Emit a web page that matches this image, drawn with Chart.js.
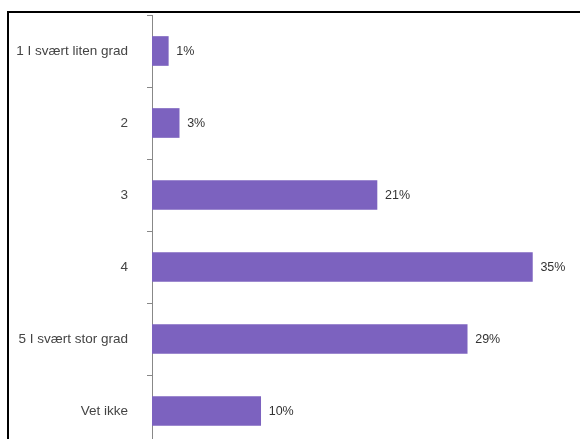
<!DOCTYPE html>
<html>
<head>
<meta charset="utf-8">
<script src="https://cdn.jsdelivr.net/npm/chart.js@4.4.0/dist/chart.umd.min.js"></script>
<style>
  html, body { margin: 0; padding: 0; width: 580px; height: 439px; overflow: hidden; background: #fff; }
  #frame { position: absolute; left: 7px; top: 11px; width: 640px; height: 520px; border: 2px solid #000; box-sizing: border-box; }
  #wrap { position: absolute; left: 0; top: 0; width: 580px; height: 460px; }
</style>
</head>
<body>
<div id="frame"></div>
<div id="wrap"><canvas id="chart"></canvas></div>
<script>
// svaralternativ og andel (prosent)
const kategorier = ['1 I svært liten grad', '2', '3', '4', '5 I svært stor grad', 'Vet ikke'];
const andel = [1.5, 2.5, 20.7, 35, 29, 10];
const etiketter = ['1%', '3%', '21%', '35%', '29%', '10%'];

// skriver prosenttallet til høyre for hver stolpe
const verdiTekst = {
  id: 'verdiTekst',
  afterDatasetsDraw(chart) {
    const ctx = chart.ctx;
    const meta = chart.getDatasetMeta(0);
    ctx.save();
    ctx.font = '12.5px "Liberation Sans", Arial, sans-serif';
    ctx.fillStyle = '#333';
    ctx.textAlign = 'left';
    ctx.textBaseline = 'middle';
    meta.data.forEach((bar, i) => {
      ctx.fillText(etiketter[i], bar.x + 8, bar.y + 1);
    });
    ctx.restore();
  }
};

new Chart(document.getElementById('chart'), {
  type: 'bar',
  data: {
    labels: kategorier,
    datasets: [{
      data: andel,
      backgroundColor: '#7c62bf',
      borderWidth: 0,
      barThickness: 29
    }]
  },
  options: {
    indexAxis: 'y',
    responsive: true,
    maintainAspectRatio: false,
    animation: false,
    layout: { padding: { top: 15, bottom: 13, right: 15, left: 0 } },
    scales: {
      x: {
        display: false,
        min: 0,
        max: 38
      },
      y: {
        afterFit: s => {
          s.width = 152;
          s.paddingTop = 0;
          s.paddingBottom = 0;
        },
        border: { display: true, color: '#888', width: 1 },
        grid: { offset: true, drawOnChartArea: false, tickLength: 5, color: '#888' },
        ticks: {
          padding: 19,
          color: '#444',
          font: { family: '"Liberation Sans", Arial, sans-serif', size: 13.5 }
        }
      }
    },
    plugins: {
      legend: { display: false },
      tooltip: { enabled: false }
    }
  },
  plugins: [verdiTekst]
});
</script>
</body>
</html>
